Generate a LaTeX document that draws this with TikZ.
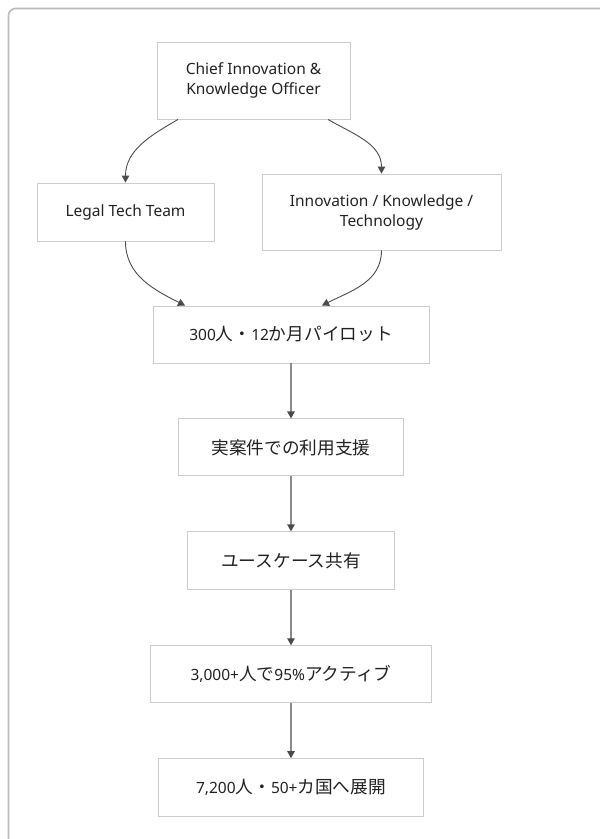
\documentclass[tikz,border=0pt]{standalone}
\usepackage{fontspec}
\setmainfont{Noto Sans}
\newfontfamily\cjk[Scale=1.14]{Noto Sans CJK JP}
\usetikzlibrary{arrows.meta,positioning}
\definecolor{mFrame}{HTML}{BBBBBB}
\definecolor{mBorder}{HTML}{CCCCCC}
\definecolor{mLine}{HTML}{8A8A8A}
\definecolor{mCurve}{HTML}{4A4A4A}
\definecolor{mText}{HTML}{222222}
\tikzset{
  >={Triangle[length=7pt,width=7.5pt]},
  box/.style ={rectangle,draw=mBorder,line width=0.9pt,fill=white,text=mText,align=center,inner sep=2pt,minimum height=57pt},
  flow/.style={->,line width=1.3pt,mLine,-{Triangle[length=7pt,width=7.5pt,color=mCurve]}},
  branch/.style={->,line width=0.9pt,mCurve},
}

\begin{document}
\begin{tikzpicture}[x=1pt,y=1pt,font=\fontsize{15.5}{20}\selectfont,node distance=55pt]
  \useasboundingbox (0,0) rectangle (600,-839);
  \begin{scope}
    \clip (0,0) rectangle (600,-839);
    \draw[mFrame,line width=1.6pt,rounded corners=7pt] (8.5,-8.5) rectangle (640,-880);
  \end{scope}
  \node[box,minimum width=193pt,minimum height=77pt] (cko) at (253.5,-80.5)
        {Chief Innovation \&\\Knowledge Officer};
  \node[box,minimum width=177pt,minimum height=58pt] (legal) at (125.5,-212) {Legal Tech Team};
  \node[box,minimum width=239pt,minimum height=76pt] (ikt) at (381.5,-212)
        {Innovation / Knowledge /\\Technology};
  \node[box,minimum width=276pt] (pilot) at (291,-334.5) {300{\cjk 人・}12{\cjk か月パイロット}};
  \node[box,minimum width=225pt,below=of pilot] (support) {{\cjk 実案件での利用支援}};
  \node[box,minimum width=207pt,minimum height=58pt,below=of support] (cases) {{\cjk ユースケース共有}};
  \node[box,minimum width=281pt,below=of cases] (active) {3,000+{\cjk 人で}95\%{\cjk アクティブ}};
  \node[box,minimum width=265pt,minimum height=58pt,below=of active] (rollout) {7,200{\cjk 人・}50+{\cjk カ国へ展開}};
  % fan out and back in
  \draw[branch] ([xshift=-75.5pt]cko.south) to[out=-150,in=90] (legal.north);
  \draw[branch] ([xshift=74.5pt]cko.south) to[out=-30,in=90] (ikt.north);
  \draw[branch] (legal.south) to[out=-90,in=153] ([xshift=-106pt]pilot.north);
  \draw[branch] (ikt.south) to[out=-90,in=27] ([xshift=31pt]pilot.north);
  % main line
  \draw[flow] (pilot) -- (support);
  \draw[flow] (support) -- (cases);
  \draw[flow] (cases) -- (active);
  \draw[flow] (active) -- (rollout);
\end{tikzpicture}
\end{document}
